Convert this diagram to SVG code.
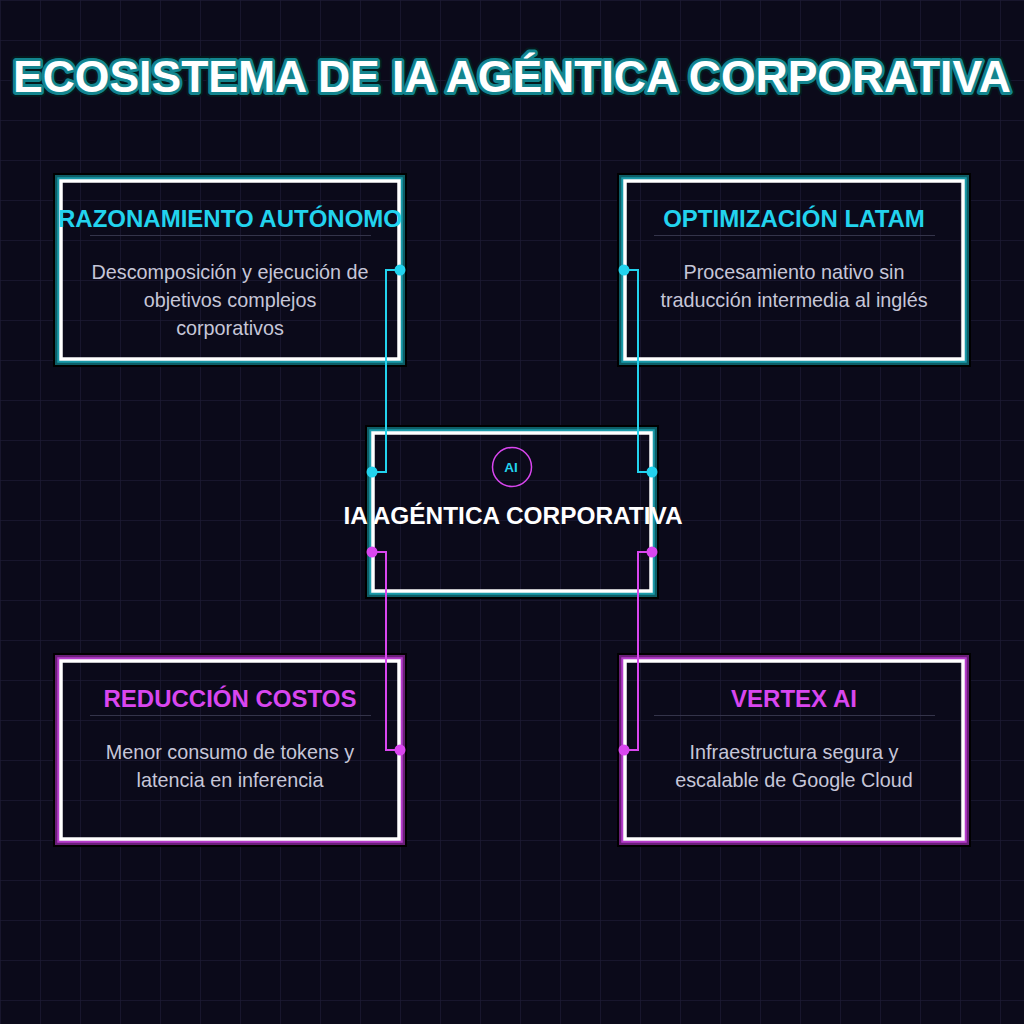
<svg xmlns="http://www.w3.org/2000/svg" width="1024" height="1024" viewBox="0 0 1024 1024">
<defs>
<pattern id="grid" width="40" height="40" patternUnits="userSpaceOnUse">
<path d="M40 0H0V40" fill="none" stroke="#1c1a33" stroke-width="1.5"/>
</pattern>
<style>
.ttl{font-family:"Liberation Sans",Arial,sans-serif;font-weight:bold;font-size:44.5px;text-anchor:middle}
.h{font-family:"Liberation Sans",Arial,sans-serif;font-weight:bold;font-size:24px;text-anchor:middle}
.d{font-family:"Liberation Sans",Arial,sans-serif;font-size:19.8px;fill:#c6c6d8;text-anchor:middle}
.b0{fill:none;stroke:#000;stroke-width:3}
.bc1{fill:none;stroke:#0d5d66;stroke-width:5}
.bc2{fill:none;stroke:#1a9aa9;stroke-width:2.5}
.bm1{fill:none;stroke:#6a1f78;stroke-width:5}
.bm2{fill:none;stroke:#b63ccc;stroke-width:2.5}
.bw{fill:none;stroke:#fff;stroke-width:3.5}
.div{stroke:#34344a;stroke-width:1}
.cy{fill:#22d3ee}
.mg{fill:#d946ef}
.lc{fill:none;stroke:#22d3ee;stroke-width:2}
.lm{fill:none;stroke:#d946ef;stroke-width:2}
</style>
</defs>
<rect width="1024" height="1024" fill="#0b0a1a"/>
<rect width="1024" height="1024" fill="url(#grid)"/>

<g id="title">
<text x="512" y="92" class="ttl" fill="none" stroke="#041a1e" stroke-width="10" stroke-linejoin="round">ECOSISTEMA DE IA AGÉNTICA CORPORATIVA</text>
<text x="512" y="92" class="ttl" fill="none" stroke="#13858f" stroke-width="6" stroke-linejoin="round">ECOSISTEMA DE IA AGÉNTICA CORPORATIVA</text>
<text x="512" y="92" class="ttl" fill="#ffffff">ECOSISTEMA DE IA AGÉNTICA CORPORATIVA</text>
</g>

<g id="node-razonamiento">
<rect class="b0" x="54.5" y="174.5" width="351" height="191"/>
<rect class="bc1" x="57.5" y="177.5" width="345" height="185"/>
<rect class="bc2" x="58.5" y="178.5" width="343" height="183"/>
<rect class="bw" x="61" y="181" width="338" height="178"/>
<text x="230" y="227" class="h cy">RAZONAMIENTO AUTÓNOMO</text>
<line class="div" x1="90" y1="235.5" x2="371" y2="235.5"/>
<text x="230" y="279" class="d">Descomposición y ejecución de</text>
<text x="230" y="307" class="d">objetivos complejos</text>
<text x="230" y="335" class="d">corporativos</text>
</g>

<g id="node-optimizacion">
<rect class="b0" x="618.5" y="174.5" width="351" height="191"/>
<rect class="bc1" x="621.5" y="177.5" width="345" height="185"/>
<rect class="bc2" x="622.5" y="178.5" width="343" height="183"/>
<rect class="bw" x="625" y="181" width="338" height="178"/>
<text x="794" y="227" class="h cy">OPTIMIZACIÓN LATAM</text>
<line class="div" x1="654" y1="235.5" x2="935" y2="235.5"/>
<text x="794" y="279" class="d">Procesamiento nativo sin</text>
<text x="794" y="307" class="d">traducción intermedia al inglés</text>
</g>

<g id="node-center">
<rect class="b0" x="366.5" y="426.5" width="291" height="171"/>
<rect class="bc1" x="369.5" y="429.5" width="285" height="165"/>
<rect class="bc2" x="370.5" y="430.5" width="283" height="163"/>
<rect class="bw" x="373" y="433" width="278" height="158"/>
<circle cx="512" cy="467" r="19.5" fill="none" stroke="#d946ef" stroke-width="1.5"/>
<text x="511" y="472" class="h cy" style="font-size:13.5px">AI</text>
<text x="513" y="524" class="h" fill="#ffffff" style="font-size:24.4px">IA AGÉNTICA CORPORATIVA</text>
</g>

<g id="node-reduccion">
<rect class="b0" x="54.5" y="654.5" width="351" height="191"/>
<rect class="bm1" x="57.5" y="657.5" width="345" height="185"/>
<rect class="bm2" x="58.5" y="658.5" width="343" height="183"/>
<rect class="bw" x="61" y="661" width="338" height="178"/>
<text x="230" y="707" class="h mg">REDUCCIÓN COSTOS</text>
<line class="div" x1="90" y1="715.5" x2="371" y2="715.5"/>
<text x="230" y="759" class="d">Menor consumo de tokens y</text>
<text x="230" y="787" class="d">latencia en inferencia</text>
</g>

<g id="node-vertex">
<rect class="b0" x="618.5" y="654.5" width="351" height="191"/>
<rect class="bm1" x="621.5" y="657.5" width="345" height="185"/>
<rect class="bm2" x="622.5" y="658.5" width="343" height="183"/>
<rect class="bw" x="625" y="661" width="338" height="178"/>
<text x="794" y="707" class="h mg">VERTEX AI</text>
<line class="div" x1="654" y1="715.5" x2="935" y2="715.5"/>
<text x="794" y="759" class="d">Infraestructura segura y</text>
<text x="794" y="787" class="d">escalable de Google Cloud</text>
</g>

<g id="connectors">
<path class="lc" d="M400 270H386V472H372"/>
<circle class="cy" cx="400" cy="270" r="5.5"/><circle class="cy" cx="372" cy="472" r="5.5"/>
<path class="lc" d="M624 270H638V472H652"/>
<circle class="cy" cx="624" cy="270" r="5.5"/><circle class="cy" cx="652" cy="472" r="5.5"/>
<path class="lm" d="M372 552H386V750H400"/>
<circle class="mg" cx="372" cy="552" r="5.5"/><circle class="mg" cx="400" cy="750" r="5.5"/>
<path class="lm" d="M652 552H638V750H624"/>
<circle class="mg" cx="652" cy="552" r="5.5"/><circle class="mg" cx="624" cy="750" r="5.5"/>
</g>
</svg>
